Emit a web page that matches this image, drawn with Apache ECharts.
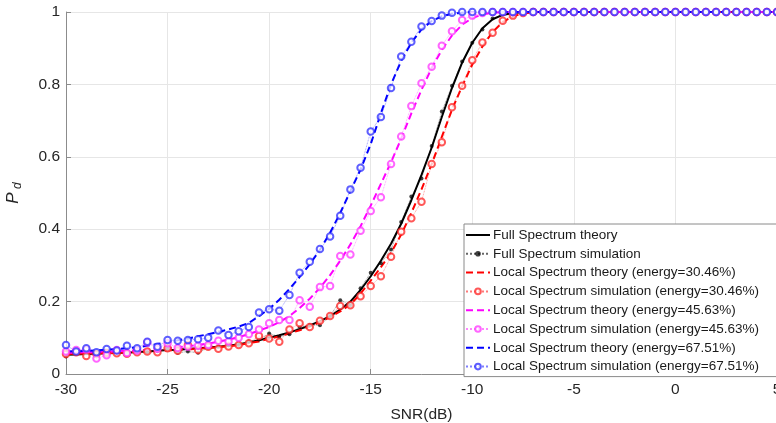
<!DOCTYPE html>
<html lang="en">
<head>
    <meta charset="UTF-8">
    <title>Pd vs SNR</title>
    <script src="https://cdn.jsdelivr.net/npm/echarts@6/dist/echarts.min.js"></script>
    <style>
        html, body, #chart {
            width: 776px;
            height: 423px;
            padding: 0;
            margin: 0;
            background: #fff;
        }
    </style>
</head>
<body>
<div id="chart"></div>
<script>
    // SNR in dB, one point every 0.5 dB
    var snr = [-30, -29.5, -29, -28.5, -28, -27.5, -27, -26.5, -26, -25.5,
        -25, -24.5, -24, -23.5, -23, -22.5, -22, -21.5, -21, -20.5,
        -20, -19.5, -19, -18.5, -18, -17.5, -17, -16.5, -16, -15.5,
        -15, -14.5, -14, -13.5, -13, -12.5, -12, -11.5, -11, -10.5,
        -10, -9.5, -9, -8.5, -8, -7.5, -7, -6.5, -6, -5.5,
        -5, -4.5, -4, -3.5, -3, -2.5, -2, -1.5, -1, -0.5,
        0, 0.5, 1, 1.5, 2, 2.5, 3, 3.5, 4, 4.5,
        5];

    var fullTheory = [0.053, 0.054, 0.055, 0.056, 0.057, 0.058, 0.059, 0.061, 0.062, 0.064,
        0.066, 0.067, 0.069, 0.071, 0.073, 0.075, 0.078, 0.082, 0.087, 0.093,
        0.100, 0.107, 0.115, 0.124, 0.134, 0.146, 0.160, 0.178, 0.200, 0.232,
        0.270, 0.313, 0.360, 0.415, 0.480, 0.550, 0.625, 0.710, 0.790, 0.860,
        0.915, 0.955, 0.980, 0.992, 0.997, 0.999, 1, 1, 1, 1,
        1, 1, 1, 1, 1, 1, 1, 1, 1, 1,
        1, 1, 1, 1, 1, 1, 1, 1, 1, 1,
        1];
    var fullSim = [0.048, 0.066, 0.058, 0.059, 0.056, 0.060, 0.057, 0.062, 0.060, 0.063,
        0.070, 0.059, 0.062, 0.059, 0.072, 0.075, 0.079, 0.080, 0.090, 0.095,
        0.112, 0.103, 0.110, 0.130, 0.135, 0.135, 0.160, 0.204, 0.190, 0.237,
        0.280, 0.306, 0.344, 0.420, 0.490, 0.540, 0.630, 0.725, 0.796, 0.863,
        0.915, 0.952, 0.982, 0.993, 0.998, 1, 1, 1, 1, 1,
        1, 1, 1, 1, 1, 1, 1, 1, 1, 1,
        1, 1, 1, 1, 1, 1, 1, 1, 1, 1,
        1];
    var localTheory30 = [0.055, 0.056, 0.057, 0.057, 0.058, 0.059, 0.060, 0.061, 0.062, 0.064,
        0.065, 0.067, 0.068, 0.070, 0.072, 0.074, 0.077, 0.080, 0.085, 0.090,
        0.097, 0.104, 0.112, 0.121, 0.131, 0.143, 0.157, 0.173, 0.192, 0.222,
        0.258, 0.295, 0.335, 0.385, 0.445, 0.510, 0.580, 0.655, 0.730, 0.795,
        0.855, 0.905, 0.945, 0.972, 0.988, 0.996, 0.999, 1, 1, 1,
        1, 1, 1, 1, 1, 1, 1, 1, 1, 1,
        1, 1, 1, 1, 1, 1, 1, 1, 1, 1,
        1];
    var localSim30 = [0.055, 0.060, 0.050, 0.055, 0.058, 0.057, 0.056, 0.060, 0.062, 0.060,
        0.071, 0.064, 0.080, 0.066, 0.075, 0.070, 0.076, 0.080, 0.085, 0.105,
        0.098, 0.089, 0.123, 0.140, 0.130, 0.147, 0.160, 0.188, 0.190, 0.215,
        0.243, 0.270, 0.324, 0.393, 0.430, 0.476, 0.580, 0.640, 0.737, 0.796,
        0.867, 0.916, 0.943, 0.976, 0.990, 0.997, 1, 1, 1, 1,
        1, 1, 1, 1, 1, 1, 1, 1, 1, 1,
        1, 1, 1, 1, 1, 1, 1, 1, 1, 1,
        1];
    var localTheory45 = [0.058, 0.059, 0.060, 0.061, 0.062, 0.063, 0.064, 0.066, 0.067, 0.069,
        0.071, 0.074, 0.077, 0.080, 0.084, 0.089, 0.095, 0.102, 0.110, 0.120,
        0.130, 0.143, 0.160, 0.182, 0.208, 0.238, 0.273, 0.313, 0.358, 0.408,
        0.465, 0.525, 0.585, 0.650, 0.720, 0.785, 0.845, 0.895, 0.935, 0.965,
        0.983, 0.993, 0.998, 1, 1, 1, 1, 1, 1, 1,
        1, 1, 1, 1, 1, 1, 1, 1, 1, 1,
        1, 1, 1, 1, 1, 1, 1, 1, 1, 1,
        1];
    var localSim45 = [0.062, 0.066, 0.068, 0.043, 0.052, 0.066, 0.058, 0.065, 0.087, 0.070,
        0.085, 0.072, 0.075, 0.078, 0.080, 0.092, 0.090, 0.100, 0.110, 0.123,
        0.140, 0.149, 0.149, 0.204, 0.186, 0.240, 0.243, 0.326, 0.330, 0.396,
        0.450, 0.488, 0.580, 0.656, 0.740, 0.803, 0.849, 0.907, 0.947, 0.978,
        0.990, 0.997, 1, 1, 1, 1, 1, 1, 1, 1,
        1, 1, 1, 1, 1, 1, 1, 1, 1, 1,
        1, 1, 1, 1, 1, 1, 1, 1, 1, 1,
        1];
    var localTheory67 = [0.062, 0.063, 0.064, 0.065, 0.067, 0.069, 0.071, 0.074, 0.078, 0.083,
        0.088, 0.093, 0.098, 0.104, 0.110, 0.116, 0.123, 0.131, 0.141, 0.160,
        0.180, 0.205, 0.235, 0.268, 0.303, 0.343, 0.390, 0.445, 0.505, 0.565,
        0.635, 0.720, 0.800, 0.865, 0.915, 0.952, 0.975, 0.988, 0.995, 0.998,
        1, 1, 1, 1, 1, 1, 1, 1, 1, 1,
        1, 1, 1, 1, 1, 1, 1, 1, 1, 1,
        1, 1, 1, 1, 1, 1, 1, 1, 1, 1,
        1];
    var localSim67 = [0.080, 0.062, 0.071, 0.060, 0.069, 0.065, 0.078, 0.071, 0.089, 0.075,
        0.094, 0.092, 0.094, 0.096, 0.100, 0.120, 0.108, 0.118, 0.130, 0.170,
        0.179, 0.175, 0.218, 0.280, 0.310, 0.345, 0.380, 0.437, 0.510, 0.570,
        0.670, 0.710, 0.790, 0.877, 0.918, 0.960, 0.975, 0.990, 0.998, 1,
        1, 1, 1, 1, 1, 1, 1, 1, 1, 1,
        1, 1, 1, 1, 1, 1, 1, 1, 1, 1,
        1, 1, 1, 1, 1, 1, 1, 1, 1, 1,
        1];

    var names = ["Full Spectrum theory", "Full Spectrum simulation",
        "Local Spectrum theory (energy=30.46%)", "Local Spectrum simulation (energy=30.46%)",
        "Local Spectrum theory (energy=45.63%)", "Local Spectrum simulation (energy=45.63%)",
        "Local Spectrum theory (energy=67.51%)", "Local Spectrum simulation (energy=67.51%)"];

    function pairs(values) {
        return snr.map(function (x, i) {
            return [x, values[i]];
        });
    }

    function theory(name, values, color, dashed) {
        return {
            name: name,
            type: "line",
            data: pairs(values),
            symbol: "none",
            lineStyle: {color: color, width: 2, type: dashed ? [7, 4] : "solid"},
            itemStyle: {color: color}
        };
    }

    function simulation(name, values, color, filled) {
        return {
            name: name,
            type: "line",
            data: pairs(values),
            showSymbol: true,
            showAllSymbol: true,
            symbol: filled ? "circle" : "emptyCircle",
            symbolSize: filled ? 4 : 6.5,
            lineStyle: {color: color, width: 0.8, type: "dotted", opacity: 0.6},
            itemStyle: {color: color, borderWidth: 0.9, opacity: 0.75}
        };
    }

    // theory entries show only their line in the legend
    var legendData = names.map(function (n, i) {
        return i % 2 === 0 ? {name: n, itemStyle: {opacity: 0}} : {name: n};
    });

    var font = "'Liberation Sans', Arial, sans-serif";
    var myChart = echarts.init(document.getElementById("chart"), null, {renderer: "canvas"});
    myChart.setOption({
        animation: false,
        textStyle: {fontFamily: font},
        grid: {left: 66, top: 12, right: -1, bottom: 49, containLabel: false, outerBoundsMode: "none"},
        legend: {
            orient: "vertical",
            left: 464,
            top: 224,
            data: legendData,
            itemWidth: 24,
            itemHeight: 7,
            itemGap: 4.8,
            padding: [4, 40, 3, 1],
            backgroundColor: "#fff",
            borderColor: "#8a8a8a",
            borderWidth: 1,
            borderRadius: 0,
            textStyle: {fontFamily: font, fontSize: 13.5, color: "#1a1a1a", lineHeight: 14, padding: [0, 0, 0, -2]}
        },
        xAxis: {
            type: "value",
            min: -30,
            max: 5,
            interval: 5,
            name: "SNR(dB)",
            nameLocation: "middle",
            nameGap: 33,
            nameTextStyle: {fontSize: 15.5, color: "#262626"},
            axisLine: {onZero: false, lineStyle: {color: "#8c8c8c"}},
            axisTick: {inside: true, length: 5, lineStyle: {color: "#8c8c8c"}},
            axisLabel: {fontSize: 15.5, color: "#262626", margin: 8},
            splitLine: {show: true, lineStyle: {color: "#e6e6e6"}}
        },
        yAxis: {
            type: "value",
            min: 0,
            max: 1,
            interval: 0.2,
            name: "{p|P}{d| d}",
            nameLocation: "middle",
            nameRotate: 90,
            nameGap: 42,
            nameTextStyle: {
                rich: {
                    p: {fontSize: 17, fontStyle: "italic", color: "#262626", fontFamily: font},
                    d: {fontSize: 12, fontStyle: "italic", color: "#262626", fontFamily: font, padding: [10, 0, 0, 0]}
                }
            },
            axisLine: {show: true, onZero: false, lineStyle: {color: "#8c8c8c"}},
            axisTick: {show: true, inside: true, length: 5, lineStyle: {color: "#8c8c8c"}},
            axisLabel: {fontSize: 15.5, color: "#262626", margin: 6},
            splitLine: {show: true, lineStyle: {color: "#e6e6e6"}}
        },
        series: [
            theory(names[0], fullTheory, "#000000", false),
            simulation(names[1], fullSim, "#000000", true),
            theory(names[2], localTheory30, "#ff0000", true),
            simulation(names[3], localSim30, "#ff2020", false),
            theory(names[4], localTheory45, "#ff00ff", true),
            simulation(names[5], localSim45, "#ff33ff", false),
            theory(names[6], localTheory67, "#0000ff", true),
            simulation(names[7], localSim67, "#2a2aff", false)
        ]
    });
</script>
</body>
</html>
